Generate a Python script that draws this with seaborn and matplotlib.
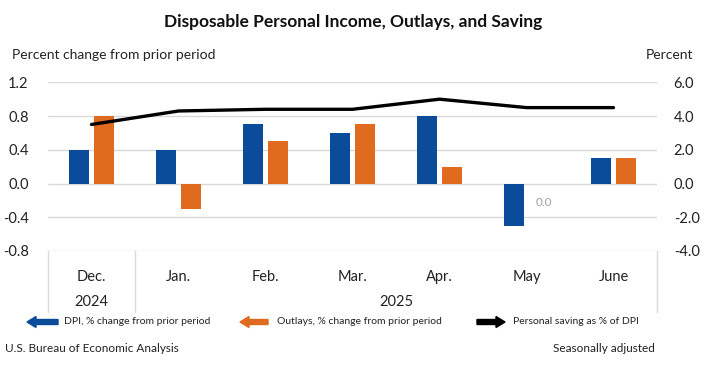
import numpy as np
import pandas as pd
import matplotlib
matplotlib.use("Agg")
import matplotlib.pyplot as plt
from matplotlib.patches import FancyArrow
from matplotlib.transforms import IdentityTransform
import seaborn as sns

# Data
months = ["Dec.", "Jan.", "Feb.", "Mar.", "Apr.", "May", "June"]
dpi_change = [0.4, 0.4, 0.7, 0.6, 0.8, -0.5, 0.3]
outlays_change = [0.8, -0.3, 0.5, 0.7, 0.2, 0.0, 0.3]
saving_rate = [3.5, 4.3, 4.4, 4.4, 5.0, 4.5, 4.5]
left_ticks = [-0.8, -0.4, 0.0, 0.4, 0.8, 1.2]
right_ticks = [-4.0, -2.0, 0.0, 2.0, 4.0, 6.0]

series_names = ["DPI, % change from prior period", "Outlays, % change from prior period"]
blue = "#0A4C9A"
orange = "#E06A1E"

df = pd.DataFrame({
    "month": months * 2,
    "value": dpi_change + outlays_change,
    "series": [series_names[0]] * len(months) + [series_names[1]] * len(months),
})

sns.set_style("white")
plt.rcParams["font.family"] = ["Lato", "DejaVu Sans"]

W, H = 720, 392
fig = plt.figure(figsize=(7.2, 3.92), dpi=100)
x0, x1, ytop, ybot = 48, 657, 82.3, 251
ax = fig.add_axes([x0 / W, 1 - ybot / H, (x1 - x0) / W, (ybot - ytop) / H])

sns.barplot(data=df, x="month", y="value", hue="series", order=months,
            hue_order=series_names, palette=[blue, orange], width=0.56,
            gap=0.18, saturation=1, legend=False, ax=ax, zorder=3,
            linewidth=0)
ax.set_xlim(-0.5, len(months) - 0.5)
ax.set_ylim(-0.8, 1.2)
ax.set_yticks(left_ticks)
ax.set_yticklabels([f"{t:.1f}" for t in left_ticks], fontsize=10.5, color="#222222")
ax.grid(axis="y", color="#D9D9D9", lw=1, zorder=0)
ax.tick_params(axis="both", length=0)
ax.tick_params(axis="y", pad=14)
ax.tick_params(axis="x", pad=14, labelsize=10.5, labelcolor="#222222")
ax.set_xlabel("")
ax.set_ylabel("")
for s in ax.spines.values():
    s.set_visible(False)

# category box below the plot
xt = ax.get_xaxis_transform()
box_depth = (312 - ybot) / (ybot - ytop)
for xv in [-0.5, 0.5, len(months) - 0.5]:
    ax.plot([xv, xv], [0, -box_depth], transform=xt, color="#D9D9D9",
            lw=1, clip_on=False)
ax.text(0, -(302 - ybot) / (ybot - ytop), "2024", transform=xt,
        ha="center", va="center", fontsize=10.5, color="#222222")
ax.text((0.5 + len(months) - 0.5) / 2, -(302 - ybot) / (ybot - ytop), "2025",
        transform=xt, ha="center", va="center", fontsize=10.5, color="#222222")

# zero data label for May outlays
ax.annotate(f"{outlays_change[5]:.1f}", (5 + 0.2, outlays_change[5]),
            xytext=(0, -14), textcoords="offset points", ha="center",
            va="center", fontsize=8.5, color="#A0A0A0")

# saving rate line on right axis
ax2 = ax.twinx()
sns.lineplot(x=np.arange(len(months)), y=saving_rate, color="black", lw=2.4,
             ax=ax2, zorder=5)
ax2.set_ylim(-4, 6)
ax2.set_yticks(right_ticks)
ax2.set_yticklabels([f"{t:.1f}" for t in right_ticks], fontsize=10.5, color="#222222")
ax2.tick_params(axis="y", length=0, pad=12)
ax2.grid(False)
for s in ax2.spines.values():
    s.set_visible(False)
ax2.set_xlim(-0.5, len(months) - 0.5)

# titles
fig.text(353 / W, 1 - 22 / H, "Disposable Personal Income, Outlays, and Saving",
         ha="center", va="center", fontsize=12.5, fontweight="bold", color="#111111")
fig.text(12 / W, 1 - 55 / H, "Percent change from prior period",
         ha="left", va="center", fontsize=10, color="#222222")
fig.text(693 / W, 1 - 55 / H, "Percent", ha="right", va="center",
         fontsize=10, color="#222222")

# legend with arrow keys
legend_items = [
    (58, 27, blue, series_names[0], 64),
    (268, 240, orange, series_names[1], 277),
    (477, 505, "black", "Personal saving as % of DPI", 513),
]
ly = H - 322
for xs, xe, col, label, tx in legend_items:
    fig.patches.append(FancyArrow(xs, ly, xe - xs, 0, width=5, head_width=11,
                                  head_length=9, length_includes_head=True,
                                  color=col, transform=IdentityTransform()))
    fig.text(tx / W, ly / H, label, ha="left", va="center", fontsize=7.5,
             color="#222222")

fig.text(5 / W, 1 - 349 / H, "U.S. Bureau of Economic Analysis", ha="left",
         va="center", fontsize=8.5, color="#222222")
fig.text(655 / W, 1 - 349 / H, "Seasonally adjusted", ha="right",
         va="center", fontsize=8.5, color="#222222")

fig.savefig("out.png", dpi=100)
